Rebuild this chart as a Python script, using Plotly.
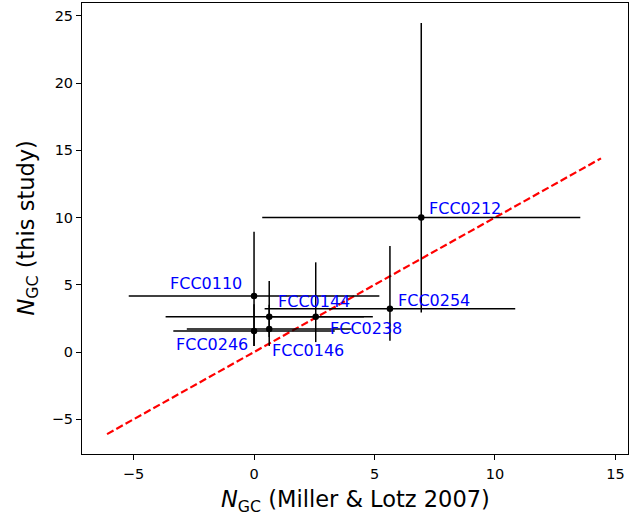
import plotly.graph_objects as go

names = ["FCC0110", "FCC0144", "FCC0146", "FCC0212", "FCC0238", "FCC0246", "FCC0254"]
x_ml07 = [0.0, 0.63, 0.63, 6.94, 2.56, 0.0, 5.64]
x_err = [5.2, 4.3, 3.42, 6.6, 2.0, 3.35, 5.2]
y_this = [4.16, 2.62, 1.71, 10.01, 2.62, 1.56, 3.22]
y_err_plus = [4.78, 2.66, 1.8, 14.45, 4.05, 2.0, 4.66]
y_err_minus = [3.71, 1.5, 1.26, 7.07, 1.88, 1.11, 2.38]

line_x = [-6.1, 14.4]

x_ticks = [-5, 0, 5, 10, 15]
y_ticks = [-5, 0, 5, 10, 15, 20, 25]

# label placement (pixel offsets and anchor)
lab_dx = [-10, 7, 1, 6, 12.6, -4, 6]
lab_dy = [12.5, 15, -21, 9, -12, -13.5, 8.5]
lab_anchor = ["right", "left", "left", "left", "left", "right", "left"]

fig = go.Figure()
fig.add_trace(go.Scatter(
    x=line_x, y=line_x, mode="lines",
    line=dict(color="red", width=2.2, dash="7.4px,3.2px"),
    showlegend=False, hoverinfo="skip"))
fig.add_trace(go.Scatter(
    x=x_ml07, y=y_this, mode="markers",
    marker=dict(color="black", size=6.5),
    error_x=dict(type="data", array=x_err, symmetric=True, color="black", thickness=1.5, width=0),
    error_y=dict(type="data", array=y_err_plus, arrayminus=y_err_minus, symmetric=False,
                 color="black", thickness=1.5, width=0),
    showlegend=False))

for n, xv, yv, dx, dy, anc in zip(names, x_ml07, y_this, lab_dx, lab_dy, lab_anchor):
    fig.add_annotation(x=xv, y=yv, text=n, showarrow=False, xanchor=anc, yanchor="middle",
                       xshift=dx, yshift=dy, font=dict(color="blue", size=16, family="DejaVu Sans"))

# axis titles
fig.add_annotation(xref="paper", yref="paper", x=0.5, y=0, yshift=-30, xanchor="center", yanchor="top",
                   text="<i>N</i><sub>GC</sub> (Miller & Lotz 2007)", showarrow=False,
                   font=dict(size=22.5, family="DejaVu Sans", color="black"))
fig.add_annotation(xref="paper", yref="paper", x=0, y=0.5, xshift=-55, xanchor="center", yanchor="middle",
                   text="<i>N</i><sub>GC</sub> (this study)", showarrow=False, textangle=-90,
                   font=dict(size=22.5, family="DejaVu Sans", color="black"))

axis_common = dict(showline=True, linecolor="black", linewidth=1, mirror=True,
                   ticks="outside", ticklen=5, tickcolor="black", tickwidth=1,
                   showgrid=False, zeroline=False, automargin=False,
                   tickfont=dict(size=14.5, color="black", family="DejaVu Sans"))

fig.update_layout(
    width=644, height=515,
    margin=dict(l=82, r=16, t=3, b=61),
    plot_bgcolor="white", paper_bgcolor="white",
    font=dict(family="DejaVu Sans", color="black"),
    xaxis=dict(range=[-7.14, 15.52], tickvals=x_ticks,
               ticktext=[str(v).replace("-", "\u2212") for v in x_ticks],
               ticklabelstandoff=2,
               **axis_common),
    yaxis=dict(range=[-7.58, 25.95], tickvals=y_ticks,
               ticktext=[str(v).replace("-", "\u2212") for v in y_ticks],
               **axis_common),
)

fig.write_html("out.html", config={"displayModeBar": False},
               post_script="document.body.style.margin='0px';")
